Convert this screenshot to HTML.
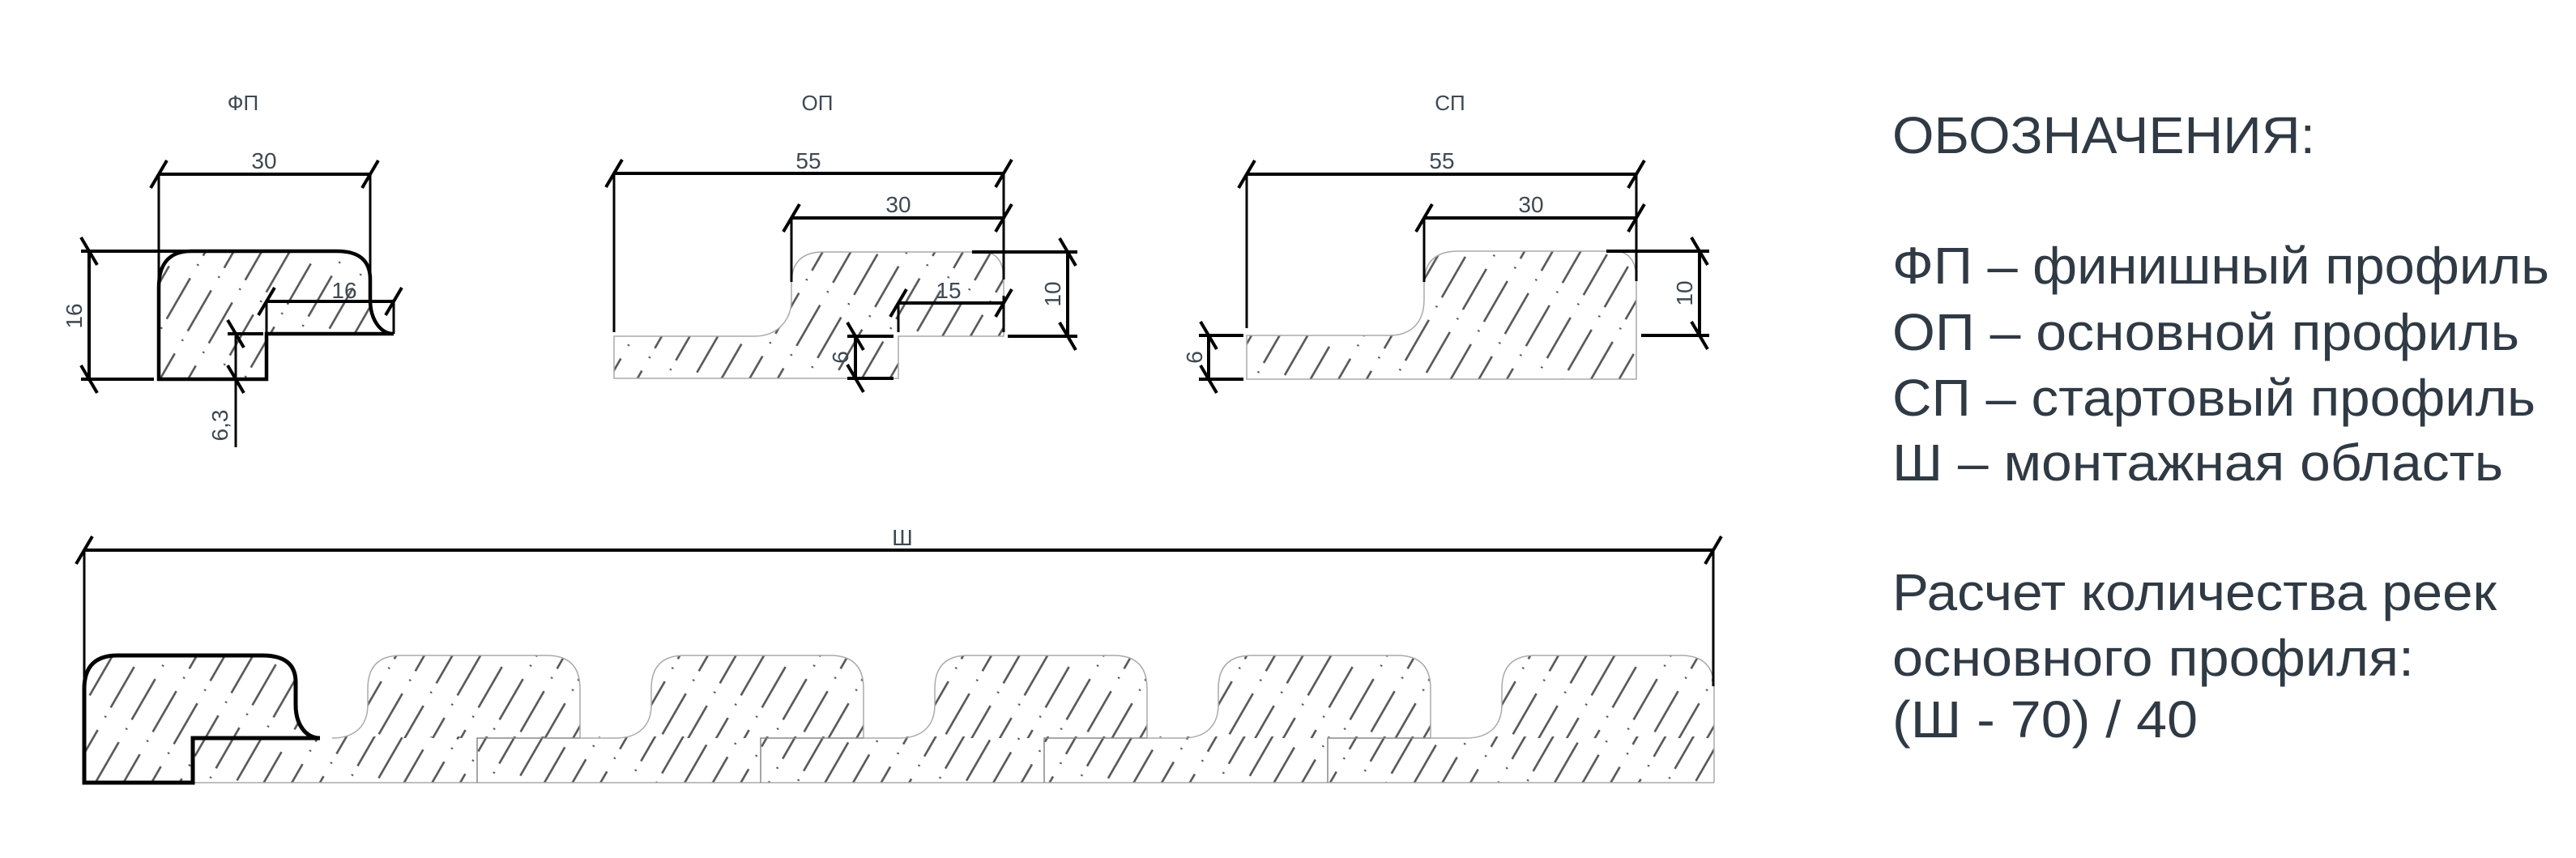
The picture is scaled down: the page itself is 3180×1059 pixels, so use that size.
<!DOCTYPE html>
<html><head><meta charset="utf-8"><style>
html,body{margin:0;padding:0;background:#fff;}
svg{display:block;}
</style></head><body>
<svg width="3180" height="1059" viewBox="0 0 3180 1059" xmlns="http://www.w3.org/2000/svg">
<defs>
<pattern id="h" patternUnits="userSpaceOnUse" width="30" height="90" patternTransform="rotate(30)">
<line x1="15" y1="0" x2="15" y2="90" stroke="#555" stroke-width="2.6" stroke-dasharray="58 12 2 18"/>
</pattern>
<path id="rib" d="M-44,911 C-15,911 0,895 0,870 L0,850 Q0,809 41,809 L221,809 Q262,809 262,850 L262,911"/>
<path id="ribf" d="M-44,911 C-15,911 0,895 0,870 L0,850 Q0,809 41,809 L221,809 Q262,809 262,850 L262,911 Z"/>
</defs>

<g font-family="Liberation Sans, DejaVu Sans, sans-serif" fill="#3d4852">
<text x="300" y="136" font-size="26" text-anchor="middle">ФП</text>
<text x="1009" y="136" font-size="26" text-anchor="middle">ОП</text>
<text x="1790" y="136" font-size="26" text-anchor="middle">СП</text>
</g>

<!-- ===== FP ===== -->
<path d="M196,355 Q196,310 236,310 L416,310 Q457,310 457,345 L457,370 C457,395 470,412 486,412 L329,412 L329,468 L196,468 Z" fill="url(#h)" stroke="#000" stroke-width="4.5"/>
<g stroke="#000" stroke-width="4" fill="none">
<line x1="196" y1="215" x2="457" y2="215"/>
<line x1="196" y1="215" x2="196" y2="355" stroke-width="3"/>
<line x1="457" y1="215" x2="457" y2="380" stroke-width="3"/>
<line x1="100" y1="310" x2="240" y2="310"/>
<line x1="100" y1="468" x2="190" y2="468"/>
<line x1="110" y1="310" x2="110" y2="468"/>
<line x1="329" y1="372" x2="486" y2="372"/>
<line x1="329" y1="372" x2="329" y2="412" stroke-width="3"/>
<line x1="486" y1="372" x2="486" y2="412" stroke-width="3"/>
<line x1="281" y1="412" x2="325" y2="412"/>
<line x1="291" y1="412" x2="291" y2="552" stroke-width="3"/>
<path d="M186,232 L206,198 M447,232 L467,198 M100,293 L120,327 M100,451 L120,485 M319,389 L339,355 M476,389 L496,355 M281,395 L301,429 M281,451 L301,485"/>
</g>
<g font-family="Liberation Sans, DejaVu Sans, sans-serif" fill="#3d4852" font-size="28">
<text x="326" y="208" text-anchor="middle">30</text>
<text x="425" y="368" text-anchor="middle">16</text>
<text transform="translate(101,390) rotate(-90)" text-anchor="middle">16</text>
<text transform="translate(281,525) rotate(-90)" text-anchor="middle">6,3</text>
</g>

<!-- ===== OP ===== -->
<path d="M758,415 L931,415 C960,415 977,395 977,370 L977,350 Q977,311 1016,311 L1212,311 Q1239,311 1239,345 L1239,415 L1109,415 L1109,467 L758,467 Z" fill="url(#h)" stroke="#aaa" stroke-width="1.5"/>
<g stroke="#000" stroke-width="4" fill="none">
<line x1="758" y1="214" x2="1239" y2="214"/>
<line x1="977" y1="269" x2="1239" y2="269"/>
<line x1="758" y1="214" x2="758" y2="410" stroke-width="3"/>
<line x1="977" y1="269" x2="977" y2="348" stroke-width="3"/>
<line x1="1239" y1="214" x2="1239" y2="345" stroke-width="3"/>
<line x1="1239" y1="365" x2="1239" y2="410" stroke-width="3"/>
<line x1="1109" y1="374" x2="1239" y2="374"/>
<line x1="1109" y1="374" x2="1109" y2="410" stroke-width="3"/>
<line x1="1200" y1="311" x2="1330" y2="311"/>
<line x1="1244" y1="415" x2="1330" y2="415"/>
<line x1="1318" y1="311" x2="1318" y2="415"/>
<line x1="1046" y1="415" x2="1103" y2="415"/>
<line x1="1046" y1="467" x2="1103" y2="467"/>
<line x1="1056" y1="415" x2="1056" y2="467"/>
<path d="M748,231 L768,197 M1229,231 L1249,197 M967,286 L987,252 M1229,286 L1249,252 M1099,391 L1119,357 M1229,391 L1249,357 M1308,294 L1328,328 M1308,398 L1328,432 M1046,398 L1066,432 M1046,450 L1066,484"/>
</g>
<g font-family="Liberation Sans, DejaVu Sans, sans-serif" fill="#3d4852" font-size="28">
<text x="998" y="208" text-anchor="middle">55</text>
<text x="1109" y="262" text-anchor="middle">30</text>
<text x="1171" y="368" text-anchor="middle">15</text>
<text transform="translate(1309,363) rotate(-90)" text-anchor="middle">10</text>
<text transform="translate(1047,441) rotate(-90)" text-anchor="middle">6</text>
</g>

<!-- ===== SP ===== -->
<path d="M1539,414 L1715,414 C1745,414 1758,395 1758,370 L1758,350 Q1758,310 1800,310 L1992,310 Q2020,310 2020,345 L2020,468 L1539,468 Z" fill="url(#h)" stroke="#aaa" stroke-width="1.5"/>
<g stroke="#000" stroke-width="4" fill="none">
<line x1="1539" y1="215" x2="2020" y2="215"/>
<line x1="1758" y1="269" x2="2020" y2="269"/>
<line x1="1539" y1="215" x2="1539" y2="405" stroke-width="3"/>
<line x1="1758" y1="269" x2="1758" y2="348" stroke-width="3"/>
<line x1="2020" y1="215" x2="2020" y2="347" stroke-width="3"/>
<line x1="1983" y1="310" x2="2110" y2="310"/>
<line x1="2026" y1="414" x2="2110" y2="414"/>
<line x1="2098" y1="310" x2="2098" y2="414"/>
<line x1="1480" y1="414" x2="1535" y2="414"/>
<line x1="1480" y1="468" x2="1535" y2="468"/>
<line x1="1492" y1="414" x2="1492" y2="468"/>
<path d="M1529,232 L1549,198 M2010,232 L2030,198 M1748,286 L1768,252 M2010,286 L2030,252 M2088,293 L2108,327 M2088,397 L2108,431 M1482,397 L1502,431 M1482,451 L1502,485"/>
</g>
<g font-family="Liberation Sans, DejaVu Sans, sans-serif" fill="#3d4852" font-size="28">
<text x="1780" y="208" text-anchor="middle">55</text>
<text x="1890" y="262" text-anchor="middle">30</text>
<text transform="translate(2089,362) rotate(-90)" text-anchor="middle">10</text>
<text transform="translate(1484,441) rotate(-90)" text-anchor="middle">6</text>
</g>

<!-- ===== Assembly ===== -->
<rect x="230" y="909" width="1886" height="57" fill="url(#h)"/>
<g fill="url(#h)">
<use href="#ribf" transform="translate(454,0)"/>
<use href="#ribf" transform="translate(804,0)"/>
<use href="#ribf" transform="translate(1154,0)"/>
<use href="#ribf" transform="translate(1504,0)"/>
<use href="#ribf" transform="translate(1854,0)"/>
</g>
<g fill="none" stroke="#aaa" stroke-width="1.5">
<use href="#rib" transform="translate(454,0)"/>
<use href="#rib" transform="translate(804,0)"/>
<use href="#rib" transform="translate(1154,0)"/>
<use href="#rib" transform="translate(1504,0)"/>
<use href="#rib" transform="translate(1854,0)"/>
<path d="M716,911 L760,911 M1066,911 L1110,911 M1416,911 L1460,911 M1766,911 L1810,911 M2116,911 L2116,966 M238,966 L2116,966"/>
<path d="M589,966 L589,911 L716,911 M939,966 L939,911 L1066,911 M1289,966 L1289,911 L1416,911 M1639,966 L1639,911 L1766,911" stroke="#888"/>
</g>
<path d="M104,850 Q104,809 145,809 L324,809 Q365,809 365,842 L365,870 C365,895 378,911 395,911 L238,911 L238,966 L104,966 Z" fill="url(#h)" stroke="#000" stroke-width="5"/>
<g stroke="#000" stroke-width="4" fill="none">
<line x1="104" y1="679" x2="2115" y2="679"/>
<line x1="104" y1="679" x2="104" y2="853" stroke-width="3"/>
<line x1="2115" y1="679" x2="2115" y2="847" stroke-width="3"/>
<path d="M94,696 L114,662 M2105,696 L2125,662"/>
</g>
<text x="1114" y="673" font-family="Liberation Sans, DejaVu Sans, sans-serif" font-size="28" fill="#3d4852" text-anchor="middle">Ш</text>

<!-- ===== Legend ===== -->
<g font-family="Liberation Sans, DejaVu Sans, sans-serif" fill="#2f3a44" font-size="64">
<text x="2336" y="189" textLength="522" lengthAdjust="spacingAndGlyphs">ОБОЗНАЧЕНИЯ:</text>
<text x="2336" y="350" textLength="811" lengthAdjust="spacingAndGlyphs">ФП – финишный профиль</text>
<text x="2336" y="432" textLength="774" lengthAdjust="spacingAndGlyphs">ОП – основной профиль</text>
<text x="2336" y="513" textLength="794" lengthAdjust="spacingAndGlyphs">СП – стартовый профиль</text>
<text x="2336" y="593" textLength="754" lengthAdjust="spacingAndGlyphs">Ш – монтажная область</text>
<text x="2336" y="753" textLength="746" lengthAdjust="spacingAndGlyphs">Расчет количества реек</text>
<text x="2336" y="834" textLength="644" lengthAdjust="spacingAndGlyphs">основного профиля:</text>
<text x="2336" y="910" textLength="377" lengthAdjust="spacingAndGlyphs">(Ш - 70) / 40</text>
</g>
</svg>
</body></html>
